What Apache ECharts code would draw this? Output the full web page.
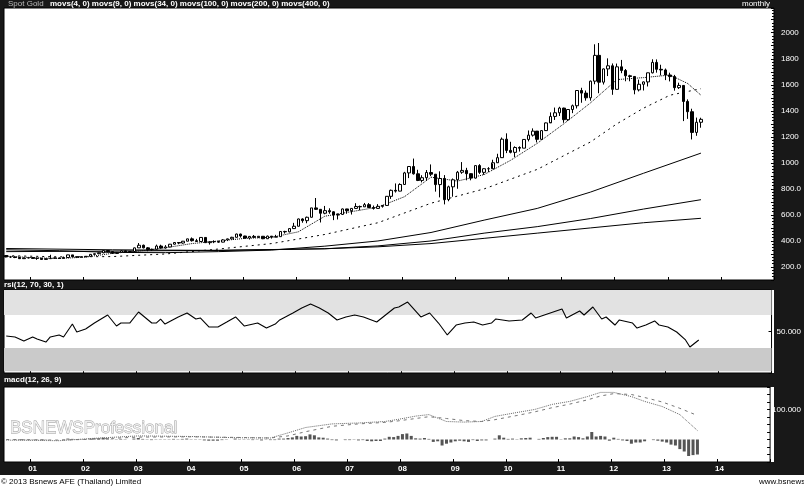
<!DOCTYPE html>
<html>
<head>
<meta charset="utf-8">
<script src="https://cdn.jsdelivr.net/npm/echarts/dist/echarts.min.js"></script>
<style>
  html, body { margin: 0; padding: 0; background: #fff; }
  #chart { width: 804px; height: 488px; }
</style>
</head>
<body>
<div id="chart"></div>
<script>
// monthly categories, Jul 2000 .. Dec 2014 (axis runs past the last candle)
const months = [];
for (let y = 2000; y <= 2014; y++) {
  for (let m = 1; m <= 12; m++) {
    if (y === 2000 && m < 7) continue;
    months.push(y + '-' + String(m).padStart(2, '0'));
  }
}

// spot gold monthly OHLC, Jul 2000 .. Aug 2013
const opens = [
  288, 277, 277, 273, 264, 269,
  272, 266, 267, 258, 264, 267, 270, 266, 273, 293, 279, 275,
  279, 282, 297, 302, 309, 326, 318, 304, 312, 324, 317, 319,
  347, 367, 347, 334, 336, 361, 346, 354, 375, 388, 384, 398,
  416, 402, 396, 427, 387, 394, 395, 391, 408, 416, 428, 453,
  438, 422, 435, 428, 436, 417, 437, 429, 433, 473, 470, 495,
  513, 569, 556, 582, 654, 643, 613, 633, 624, 599, 604, 646,
  632, 650, 665, 662, 679, 657, 650, 666, 673, 743, 789, 783,
  834, 923, 972, 916, 865, 886, 926, 913, 833, 880, 718, 816,
  870, 928, 942, 917, 883, 979, 927, 955, 955, 1001, 1040, 1182,
  1096, 1081, 1118, 1113, 1180, 1213, 1244, 1181, 1248, 1307, 1357, 1385,
  1421, 1332, 1410, 1439, 1556, 1536, 1500, 1628, 1826, 1620, 1722, 1746,
  1565, 1738, 1710, 1669, 1664, 1561, 1604, 1622, 1692, 1772, 1719, 1714,
  1675, 1663, 1578, 1595, 1472, 1393, 1234, 1312
];
const closes = [
  277, 277, 273, 264, 269, 272,
  266, 267, 258, 264, 267, 270, 266, 273, 293, 279, 275, 279,
  282, 297, 302, 309, 326, 318, 304, 312, 324, 317, 319, 347,
  367, 347, 334, 336, 361, 346, 354, 375, 388, 384, 398, 416,
  402, 396, 427, 387, 394, 395, 391, 408, 416, 428, 453, 438,
  422, 435, 428, 436, 417, 437, 429, 433, 473, 470, 495, 513,
  569, 556, 582, 654, 643, 613, 633, 624, 599, 604, 646, 632,
  650, 665, 662, 679, 657, 650, 666, 673, 743, 789, 783, 834,
  923, 972, 916, 865, 886, 926, 913, 833, 880, 718, 816, 870,
  928, 942, 917, 883, 979, 927, 955, 955, 1001, 1040, 1182, 1096,
  1081, 1118, 1113, 1180, 1213, 1244, 1181, 1248, 1307, 1357, 1385, 1421,
  1332, 1410, 1439, 1556, 1536, 1500, 1628, 1826, 1620, 1722, 1746, 1565,
  1738, 1710, 1669, 1664, 1561, 1604, 1622, 1692, 1772, 1719, 1714, 1675,
  1663, 1578, 1595, 1472, 1393, 1234, 1312, 1334.51
];
const lows = [
  275, 270, 268, 263, 263, 266,
  263, 255, 257, 255, 264, 265, 264, 265, 271, 278, 270, 273,
  278, 280, 290, 299, 306, 313, 300, 302, 311, 314, 315, 318,
  347, 343, 321, 324, 337, 342, 342, 352, 373, 375, 379, 398,
  395, 393, 392, 385, 372, 383, 387, 389, 399, 414, 427, 426,
  417, 411, 423, 422, 414, 415, 418, 429, 433, 457, 466, 492,
  512, 540, 536, 581, 638, 542, 605, 609, 560, 565, 600, 609,
  603, 647, 636, 663, 653, 641, 648, 656, 670, 723, 772, 781,
  833, 883, 910, 860, 850, 864, 898, 779, 735, 681, 705, 740,
  801, 916, 866, 866, 880, 915, 908, 930, 995, 1003, 1043, 1075,
  1073, 1045, 1087, 1113, 1165, 1202, 1157, 1176, 1245, 1313, 1330, 1360,
  1308, 1322, 1382, 1418, 1462, 1478, 1478, 1604, 1535, 1602, 1667, 1523,
  1563, 1689, 1627, 1627, 1527, 1549, 1556, 1587, 1687, 1693, 1672, 1636,
  1626, 1555, 1568, 1321, 1338, 1180, 1208, 1270
];
const highs = [
  290, 280, 278, 275, 272, 275,
  272, 268, 270, 265, 294, 272, 272, 280, 294, 293, 280, 281,
  283, 300, 303, 311, 327, 330, 322, 315, 330, 326, 323, 349,
  384, 372, 353, 341, 372, 371, 368, 377, 391, 391, 400, 417,
  427, 416, 427, 428, 396, 405, 403, 414, 418, 432, 456, 456,
  440, 438, 446, 438, 436, 441, 432, 447, 474, 478, 496, 539,
  572, 574, 587, 654, 730, 643, 669, 651, 628, 612, 649, 647,
  653, 690, 672, 692, 691, 672, 683, 676, 744, 795, 842, 843,
  931, 976, 1033, 947, 905, 945, 988, 914, 935, 906, 825, 880,
  938, 1006, 962, 915, 980, 990, 959, 967, 1024, 1070, 1195, 1227,
  1162, 1127, 1127, 1181, 1249, 1265, 1245, 1250, 1310, 1388, 1425, 1431,
  1424, 1411, 1448, 1557, 1577, 1556, 1632, 1911, 1921, 1725, 1803, 1764,
  1763, 1791, 1721, 1677, 1665, 1640, 1625, 1693, 1796, 1795, 1754, 1725,
  1693, 1676, 1616, 1598, 1488, 1416, 1348, 1347
];
const lastPrice = 1334.51;

// moving averages: [month, value]
const ma9 = [
  ['2000-07', 283], ['2001-01', 272], ['2001-07', 265], ['2002-01', 276], ['2002-07', 305],
  ['2003-01', 322], ['2003-07', 348], ['2004-01', 380], ['2004-07', 400], ['2005-01', 420],
  ['2005-07', 428], ['2006-01', 470], ['2006-07', 590], ['2007-01', 625], ['2007-07', 660],
  ['2008-01', 740], ['2008-07', 890], ['2009-01', 860], ['2009-07', 910], ['2010-01', 1020],
  ['2010-07', 1150], ['2011-01', 1300], ['2011-07', 1460], ['2012-01', 1640], ['2012-07', 1655],
  ['2013-01', 1675], ['2013-05', 1610], ['2013-08', 1520]
];
const ma34 = [
  ['2000-07', 287], ['2001-07', 278], ['2002-07', 280], ['2003-07', 300], ['2004-07', 338],
  ['2005-07', 380], ['2006-07', 450], ['2007-07', 540], ['2008-07', 690], ['2009-07', 800],
  ['2010-07', 950], ['2011-07', 1160], ['2012-01', 1300], ['2012-07', 1420], ['2013-01', 1520],
  ['2013-08', 1570]
];
const ma100 = [
  ['2000-07', 332], ['2001-07', 325], ['2002-07', 312], ['2003-07', 310], ['2004-07', 318],
  ['2005-07', 330], ['2006-07', 360], ['2007-07', 400], ['2008-07', 465], ['2009-07', 560],
  ['2010-07', 650], ['2011-07', 775], ['2012-07', 920], ['2013-08', 1075]
];
const ma200 = [
  ['2000-07', 342], ['2002-07', 332], ['2004-07', 327], ['2006-07', 340], ['2007-07', 362],
  ['2008-07', 400], ['2009-07', 460], ['2010-07', 510], ['2011-07', 572], ['2012-07', 645],
  ['2013-08', 717]
];
const ma400 = [
  ['2000-07', 318], ['2002-07', 322], ['2004-07', 328], ['2006-07', 340], ['2007-07', 355],
  ['2008-07', 380], ['2009-07', 420], ['2010-07', 460], ['2011-07', 500], ['2012-07', 540],
  ['2013-08', 574]
];

// rsi(12): [month index, value]
const rsiPoints = [
  [0, 44.6], [2, 43.4], [4, 38.6], [6, 43.4], [7, 41], [9, 37.3], [10, 43.4], [12, 45.8],
  [13, 43.4], [15, 59], [16, 49.4], [18, 53], [20, 60.2], [23, 69.9], [25, 56.6], [26, 60.2],
  [28, 60.2], [30, 73.5], [33, 60.2], [34, 60.2], [35, 65], [36, 59], [39, 67.5], [41, 72.3],
  [43, 65.1], [44, 66.3], [46, 55.4], [48, 55.4], [50, 61.4], [52, 67.5], [54, 56.6], [57, 60.2],
  [59, 54.2], [61, 59], [62, 63.9], [65, 72.3], [67, 78.3], [69, 83.1], [71, 78.3], [73, 72.3],
  [75, 63.9], [77, 67.5], [79, 69.9], [81, 67.5], [84, 61.4], [86, 69.9], [88, 78.3], [89, 79.5],
  [91, 85.5], [94, 67.5], [96, 72.3], [98, 60.2], [100, 45.8], [102, 57.8], [104, 60.2], [106, 61.4],
  [108, 57.8], [110, 60.2], [111, 65.1], [114, 62.7], [117, 63.9], [119, 72.3], [120, 66.3], [124, 73.5],
  [126, 77.1], [127, 66.3], [130, 74.7], [131, 69.9], [133, 79.5], [135, 65.1], [136, 67.5], [138, 57.8],
  [139, 63.9], [142, 60.2], [143, 54.2], [145, 57.8], [147, 62.7], [148, 57.8], [150, 55.4], [152, 49.4],
  [154, 39.8], [155, 31.3], [157, 39.8]
];

// macd(12, 26, 9)
const macdLine = [
  [0, -2], [12, -4], [20, 4], [30, 12], [42, 10], [52, 6], [60, 5], [64, 22], [68, 40], [74, 52],
  [80, 55], [86, 60], [89, 67], [93, 78], [96, 83], [100, 60], [104, 58], [108, 60], [111, 77],
  [116, 90], [120, 100], [124, 117], [128, 127], [132, 143], [135, 157], [138, 157], [142, 143],
  [145, 127], [149, 110], [153, 83], [157, 30]
];
const signalLine = [
  [0, 0], [12, -2], [20, 1], [30, 8], [42, 9], [52, 7], [60, 5], [64, 12], [68, 26], [74, 44],
  [80, 52], [86, 57], [89, 62], [93, 70], [96, 76], [100, 70], [104, 63], [108, 60], [111, 66],
  [116, 80], [120, 92], [124, 106], [128, 118], [132, 132], [135, 145], [138, 153], [142, 150],
  [145, 140], [149, 125], [153, 104], [157, 80]
];
const macdHist = [
  0, 0, -1, -2, -2, -1,
  -1, -1, -2, -1, 0, 0, 0, 1, 3, 2, 1, 1,
  1, 3, 4, 4, 6, 4, 1, 1, 2, 1, 0, 3,
  5, 2, -1, -2, 1, -1, -1, 1, 2, 1, 2, 3,
  1, -1, 1, -3, -4, -4, -4, -2, -1, 0, 3, 1,
  -1, -1, -2, -1, -3, -1, -2, -2, 3, 3, 5, 7,
  12, 10, 11, 17, 14, 7, 6, 3, -2, -3, 0, -2,
  -2, -1, -3, -2, -5, -6, -5, -5, 3, 9, 8, 12,
  18, 20, 12, 4, 3, 5, 2, -8, -6, -20, -14, -10,
  -6, -4, -6, -8, -2, -5, -3, -3, 0, 3, 14, 6,
  2, 3, 1, 4, 5, 6, 0, 2, 5, 8, 9, 9,
  1, 4, 4, 10, 8, 4, 10, 25, 10, 12, 10, -4,
  6, 2, -3, -5, -14, -10, -10, -6, 0, -2, -4, -7,
  -10, -17, -20, -32, -40, -55, -52, -50
];

const candles = opens.map((o, i) => [o, closes[i], lows[i], highs[i]]);
const byMonth = (arr) => arr.map((p) => [months.indexOf(p[0]), p[1]]);
const isJan = (i, v) => v.slice(5) === '01';
const FONT = 'Liberation Sans, Arial, sans-serif';
const BAR = '#181818';

const charts = echarts.init(document.getElementById('chart'));

function maLine(data, type) {
  return {
    type: 'line',
    data: byMonth(data),
    symbol: 'none',
    silent: true,
    z: 2,
    lineStyle: { color: '#000', width: 1, type: type },
  };
}

function xAxisFor(gridIndex, showLabel) {
  return {
    type: 'category',
    gridIndex: gridIndex,
    data: months,
    boundaryGap: true,
    axisLine: { show: false, onZero: false },
    axisTick: { show: true, inside: true, length: 3, interval: isJan, lineStyle: { color: '#000' } },
    axisLabel: {
      show: showLabel,
      interval: isJan,
      formatter: (v) => v.slice(2, 4),
      color: '#fff',
      fontSize: 8,
      fontWeight: 'bold',
      fontFamily: FONT,
      margin: 3,
    },
    splitLine: { show: false },
  };
}

const gridBase = { left: 4, right: 30, show: true, backgroundColor: '#fff', borderColor: '#000', borderWidth: 1 };

const option = {
  backgroundColor: '#fff',
  animation: false,
  grid: [
    Object.assign({ top: 8, height: 272 }, gridBase),
    Object.assign({ top: 290, height: 83 }, gridBase),
    Object.assign({ top: 387, height: 75 }, gridBase),
  ],
  xAxis: [xAxisFor(0, false), xAxisFor(1, false), xAxisFor(2, true)],
  yAxis: [
    {
      type: 'value',
      gridIndex: 0,
      position: 'right',
      min: 100,
      max: 2190,
      interval: 100,
      axisLine: { show: false },
      axisTick: { show: true, inside: true, length: 3, lineStyle: { color: '#000' } },
      minorTick: { show: true, splitNumber: 4, length: 2, lineStyle: { color: '#000' } },
      axisLabel: {
        color: '#fff',
        fontSize: 8,
        fontFamily: FONT,
        margin: 7,
        formatter: (v) => (v % 200 !== 0 ? '' : v >= 1000 ? String(v) : v.toFixed(1)),
      },
      splitLine: { show: false },
    },
    {
      type: 'value',
      gridIndex: 1,
      position: 'right',
      min: 0,
      max: 100,
      interval: 50,
      axisLine: { show: false },
      axisTick: { show: true, inside: true, length: 3, lineStyle: { color: '#000' } },
      axisLabel: {
        color: '#fff',
        fontSize: 8,
        fontFamily: FONT,
        margin: 5,
        formatter: (v) => (v === 50 ? '50.000' : ''),
      },
      splitLine: { show: false },
    },
    {
      type: 'value',
      gridIndex: 2,
      position: 'right',
      min: -75,
      max: 175,
      interval: 25,
      axisLine: { show: false },
      axisTick: { show: true, inside: true, length: 3, lineStyle: { color: '#000' } },
      axisLabel: {
        color: '#fff',
        fontSize: 8,
        fontFamily: FONT,
        margin: 2,
        formatter: (v) => (v === 100 ? '100.000' : ''),
      },
      splitLine: { show: false },
    },
  ],
  series: [
    {
      type: 'candlestick',
      xAxisIndex: 0,
      yAxisIndex: 0,
      data: candles,
      barWidth: 3,
      z: 3,
      itemStyle: { color: '#fff', color0: '#000', borderColor: '#000', borderColor0: '#000', borderWidth: 1 },
      markLine: {
        silent: true,
        symbol: 'none',
        data: [{ yAxis: lastPrice }],
        lineStyle: { opacity: 0 },
        label: {
          position: 'end',
          distance: 0,
          formatter: '1334.51',
          color: '#000',
          backgroundColor: '#fff',
          fontSize: 8,
          fontFamily: FONT,
          padding: [1, 2, 0, 2],
        },
      },
    },
    maLine(ma9, 'dotted'),
    maLine(ma34, [2, 4]),
    maLine(ma100, 'solid'),
    maLine(ma200, 'solid'),
    maLine(ma400, 'solid'),
    {
      type: 'line',
      xAxisIndex: 1,
      yAxisIndex: 1,
      data: rsiPoints,
      symbol: 'none',
      lineStyle: { color: '#000', width: 1.1 },
      markArea: {
        silent: true,
        data: [
          [{ yAxis: 70, itemStyle: { color: '#e2e2e2' } }, { yAxis: 100 }],
          [{ yAxis: 2, itemStyle: { color: '#cacaca' } }, { yAxis: 30 }],
        ],
      },
    },
    {
      type: 'bar',
      xAxisIndex: 2,
      yAxisIndex: 2,
      data: macdHist,
      barWidth: 3,
      itemStyle: { color: '#555' },
    },
    {
      type: 'line',
      xAxisIndex: 2,
      yAxisIndex: 2,
      data: macdLine,
      symbol: 'none',
      lineStyle: { color: '#666', width: 1, type: 'dotted' },
    },
    {
      type: 'line',
      xAxisIndex: 2,
      yAxisIndex: 2,
      data: signalLine,
      symbol: 'none',
      lineStyle: { color: '#777', width: 1, type: [3, 4] },
    },
  ],
  graphic: {
    elements: [
      // black frame bars
      { type: 'rect', z: -1, shape: { x: 0, y: 0, width: 804, height: 8 }, style: { fill: BAR } },
      { type: 'rect', z: -1, shape: { x: 0, y: 280, width: 804, height: 10 }, style: { fill: BAR } },
      { type: 'rect', z: -1, shape: { x: 0, y: 373, width: 804, height: 14 }, style: { fill: BAR } },
      { type: 'rect', z: -1, shape: { x: 0, y: 462, width: 804, height: 13 }, style: { fill: BAR } },
      { type: 'rect', z: -1, shape: { x: 774, y: 0, width: 30, height: 475 }, style: { fill: BAR } },
      { type: 'rect', z: -1, shape: { x: 0, y: 0, width: 4, height: 475 }, style: { fill: BAR } },
      // panel titles
      { type: 'text', z: 10, x: 8, y: 4, style: { text: 'Spot Gold', fill: '#bbb', font: '8px ' + FONT, verticalAlign: 'middle' } },
      {
        type: 'text', z: 10, x: 50, y: 4,
        style: {
          text: 'movs(4, 0) movs(9, 0) movs(34, 0) movs(100, 0) movs(200, 0) movs(400, 0)',
          fill: '#fff', font: 'bold 8px ' + FONT, verticalAlign: 'middle',
        },
      },
      { type: 'text', z: 10, x: 742, y: 4, style: { text: 'monthly', fill: '#fff', font: '8px ' + FONT, verticalAlign: 'middle' } },
      { type: 'text', z: 10, x: 4, y: 285, style: { text: 'rsi(12, 70, 30, 1)', fill: '#fff', font: 'bold 8px ' + FONT, verticalAlign: 'middle' } },
      { type: 'text', z: 10, x: 4, y: 380, style: { text: 'macd(12, 26, 9)', fill: '#fff', font: 'bold 8px ' + FONT, verticalAlign: 'middle' } },
      // watermark
      {
        type: 'text', z: 10, x: 10, y: 428,
        style: { text: 'BSNEWSProfessional', fill: '#eee', stroke: '#999', lineWidth: 0.8, font: '17px ' + FONT, verticalAlign: 'middle' },
      },
      // footer
      { type: 'text', z: 10, x: 1, y: 482, style: { text: '© 2013 Bsnews AFE (Thailand) Limited', fill: '#000', font: '8px ' + FONT, verticalAlign: 'middle' } },
      { type: 'text', z: 10, x: 759, y: 482, style: { text: 'www.bsnews.com', fill: '#000', font: '8px ' + FONT, verticalAlign: 'middle' } },
    ],
  },
};

charts.setOption(option);
</script>
</body>
</html>
